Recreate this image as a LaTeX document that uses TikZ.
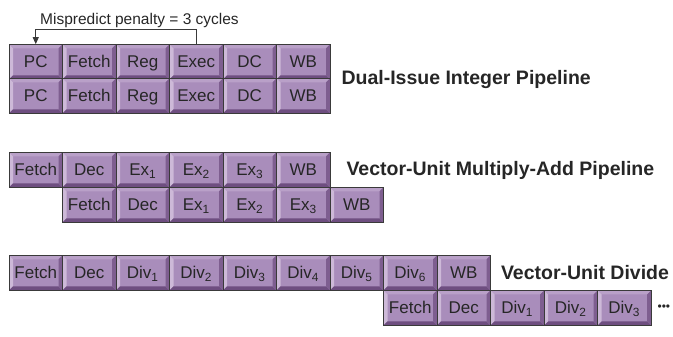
\documentclass[tikz,border=0pt]{standalone}
\usepackage{fontspec}
\setmainfont{Liberation Sans}
\usetikzlibrary{arrows.meta,positioning}
\definecolor{stageface}{HTML}{A98DBB}
\definecolor{stagetop}{HTML}{B9A0C8}
\definecolor{stageleft}{HTML}{CDB9D8}
\definecolor{stageright}{HTML}{7E5E90}
\definecolor{stagebottom}{HTML}{6E4E80}
\definecolor{stageline}{HTML}{3A3A3A}

\begin{document}
\begin{tikzpicture}[x=1pt, y=1pt,
  stage/.style={draw=stageline, line width=0.7pt, fill=stageface,
    minimum width=53.5pt, minimum height=35pt, inner sep=0pt,
    text height=13.5pt, text depth=2.5pt,
    text=black!85, font=\fontsize{17}{17}\selectfont,
    path picture={
      \fill[stagetop] (path picture bounding box.north west) -- (path picture bounding box.north east)
        -- ++(-4pt,-4pt) -- ([shift={(4pt,-4pt)}]path picture bounding box.north west) -- cycle;
      \fill[stageleft] (path picture bounding box.north west) -- (path picture bounding box.south west)
        -- ++(4pt,4pt) -- ([shift={(4pt,-4pt)}]path picture bounding box.north west) -- cycle;
      \fill[stagebottom] (path picture bounding box.south west) -- (path picture bounding box.south east)
        -- ++(-4pt,4pt) -- ([shift={(4pt,4pt)}]path picture bounding box.south west) -- cycle;
      \fill[stageright] (path picture bounding box.south east) -- (path picture bounding box.north east)
        -- ++(-4pt,-4pt) -- ([shift={(-4pt,4pt)}]path picture bounding box.south east) -- cycle;
    }},
  title/.style={font=\fontsize{19.5}{20}\selectfont\bfseries, text=black!85, inner sep=0pt},
  penalty/.style={font=\fontsize{15.5}{16}\selectfont, text=black!85, inner sep=0pt}]
  \useasboundingbox (0,0) rectangle (673,337);

  % dual-issue integer pipeline
  \foreach \lab [count=\i] in {PC,Fetch,Reg,Exec,DC,WB} {
    \node[stage] (int1-\i) at ({9+53.5*(\i-0.5)}, 275) {\lab};
    \node[stage] (int2-\i) at ({9+53.5*(\i-0.5)}, 241) {\lab};
  }
  \node[title, anchor=west, right=11pt of int1-6.south east] (inttitle) {Dual-Issue Integer Pipeline};
  \node[penalty, anchor=base west] (penalty) at (40,312) {Mispredict penalty = 3 cycles};
  \draw[stageline, line width=0.8pt, -{Triangle[length=7pt,width=6pt]}]
    (int1-4.north) -- ++(0,15) -| (int1-1.north);

  % vector-unit multiply-add pipeline
  \foreach \lab [count=\i] in {Fetch,Dec,Ex\textsubscript{1},Ex\textsubscript{2},Ex\textsubscript{3},WB} {
    \node[stage] (vma1-\i) at ({9+53.5*(\i-0.5)}, 167) {\lab};
    \node[stage] (vma2-\i) at ({9+53.5*(\i+0.5)}, 132) {\lab};
  }
  \node[title, right=16pt of vma1-6] (vmatitle) {Vector-Unit Multiply-Add Pipeline};

  % vector-unit divide
  \foreach \lab [count=\i] in {Fetch,Dec,Div\textsubscript{1},Div\textsubscript{2},Div\textsubscript{3},
      Div\textsubscript{4},Div\textsubscript{5},Div\textsubscript{6},WB}
    \node[stage] (div1-\i) at ({9+53.5*(\i-0.5)}, 64) {\lab};
  \foreach \lab [count=\i] in {Fetch,Dec,Div\textsubscript{1},Div\textsubscript{2},Div\textsubscript{3}}
    \node[stage] (div2-\i) at ({9+53.5*(\i+6.5)}, 29) {\lab};
  \node[title, right=10pt of div1-9] (divtitle) {Vector-Unit Divide};
  \node[right=6pt of div2-5, inner sep=0pt, font=\fontsize{12}{12}\selectfont, text=black!85] (more) {•••};
\end{tikzpicture}
\end{document}
